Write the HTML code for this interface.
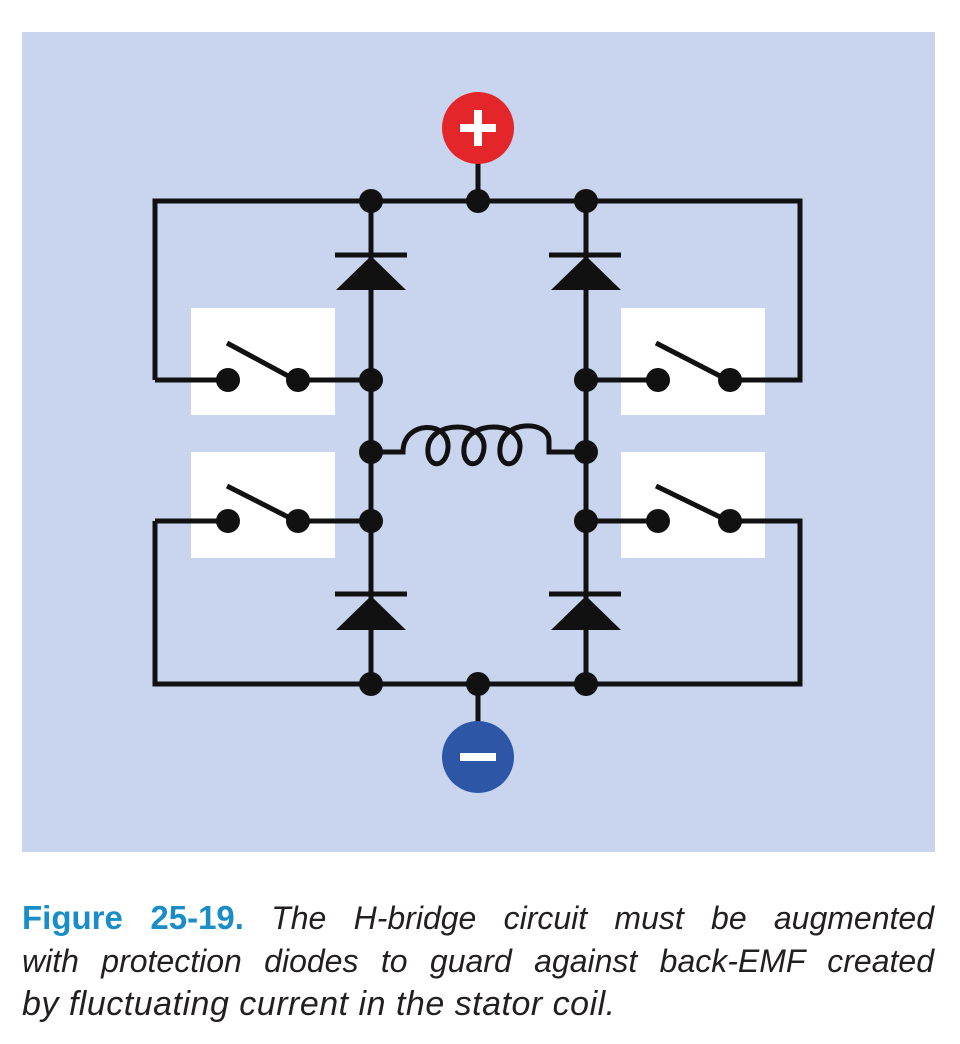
<!DOCTYPE html>
<html><head><meta charset="utf-8"><style>
body{margin:0;width:960px;height:1044px;background:#fff;overflow:hidden;font-family:"Liberation Sans",sans-serif}
#cap{position:absolute;left:22px;top:896px;width:912px;font-size:32px;line-height:43px;font-style:italic;color:#231f20}
#cap div{white-space:nowrap}
#cap .j{text-align:justify;text-align-last:justify;white-space:normal}
#cap .l{font-size:34px;letter-spacing:0.5px}
#cap b{font-style:normal;color:#1a8cc8;font-size:33px}
</style></head><body>
<svg width="960" height="880" style="position:absolute;left:0;top:0">
<rect x="22" y="32" width="913" height="820" fill="#c9d5ee"/>
<g fill="#fff">
<rect x="191" y="308" width="144" height="107"/><rect x="191" y="452" width="144" height="106"/>
<rect x="621" y="308" width="144" height="107"/><rect x="621" y="452" width="144" height="106"/>
</g>
<g stroke="#111" stroke-width="5" fill="none">
<path d="M155 380 V201 H800 V380 H730"/>
<path d="M155 521 V684 H800 V521 H730"/>
<path d="M371 201 V684 M586 201 V684 M478 160 V201 M478 684 V725"/>
<path d="M228 380 H155 M298 380 H371 M586 380 H658 M298 521 H371 M586 521 H658 M228 521 H155"/>
<path d="M227 343 L290 377 M227 486 L290 518 M656 343 L722 377 M656 486 L722 518"/>
<path d="M371 452 H403 C403 420 450 420 448 448 C446 470 426 468 428 448 C430 420 486 420 484 448 C482 470 462 468 464 448 C466 420 522 420 520 448 C518 470 498 468 500 448 C502 420 548 420 549 440 V452 H586"/>
<path d="M335 255 H407 M549 255 H621 M335 594 H407 M549 594 H621"/>
</g>
<g fill="#111">
<polygon points="371,256 336,290 406,290"/><polygon points="586,256 551,290 621,290"/>
<polygon points="371,596 336,630 406,630"/><polygon points="586,596 551,630 621,630"/>
</g>
<g fill="#111">
<circle cx="371" cy="201" r="12"/><circle cx="478" cy="201" r="12"/><circle cx="586" cy="201" r="12"/>
<circle cx="371" cy="380" r="12"/><circle cx="586" cy="380" r="12"/>
<circle cx="371" cy="452" r="12"/><circle cx="586" cy="452" r="12"/>
<circle cx="371" cy="521" r="12"/><circle cx="586" cy="521" r="12"/>
<circle cx="371" cy="684" r="12"/><circle cx="478" cy="684" r="12"/><circle cx="586" cy="684" r="12"/>
<circle cx="228" cy="380" r="12"/><circle cx="298" cy="380" r="12"/><circle cx="658" cy="380" r="12"/><circle cx="730" cy="380" r="12"/>
<circle cx="228" cy="521" r="12"/><circle cx="298" cy="521" r="12"/><circle cx="658" cy="521" r="12"/><circle cx="730" cy="521" r="12"/>
</g>
<g>
<circle cx="478" cy="128" r="36" fill="#e3262a"/>
<path d="M478 110 V146 M460 128 H496" stroke="#fff" stroke-width="8"/>
</g>
<g>
<circle cx="478" cy="757" r="36" fill="#2e56a7"/>
<path d="M460 757 H496" stroke="#fff" stroke-width="8"/>
</g>
</svg>
<div id="cap">
<div class="j"><b>Figure 25-19.</b> The H-bridge circuit must be augmented</div>
<div class="j">with protection diodes to guard against back-EMF created</div>
<div class="l">by fluctuating current in the stator coil.</div>
</div>
</body></html>
